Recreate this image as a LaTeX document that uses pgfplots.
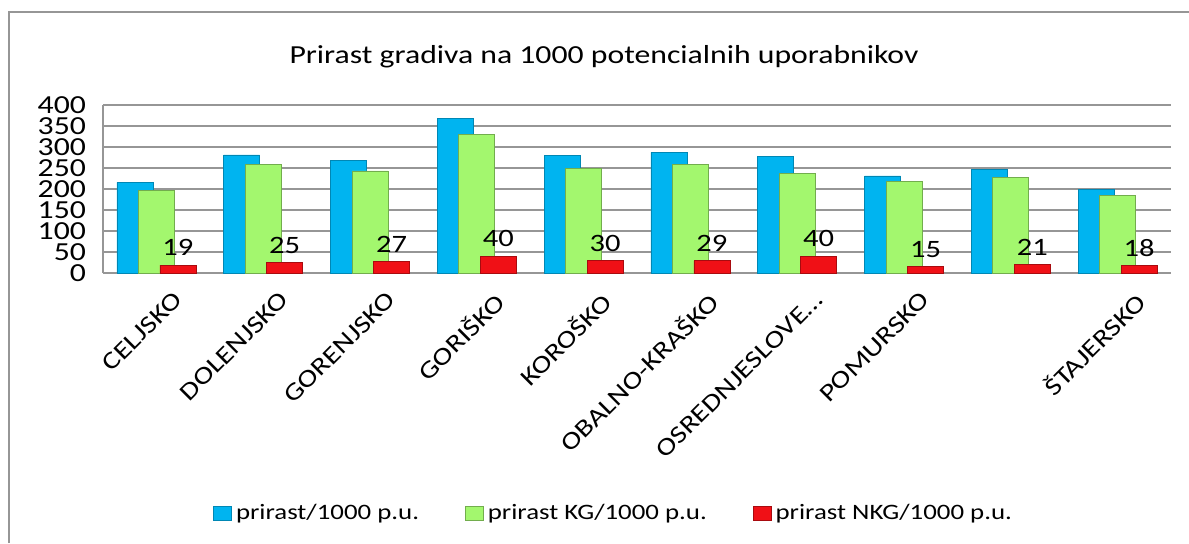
\documentclass[border=0pt]{standalone}
\usepackage{fontspec}
\setmainfont{Carlito}[FakeStretch=1.22]
\usepackage{pgfplots}
\pgfplotsset{compat=1.18}

\definecolor{cblue}{RGB}{0,180,240}
\definecolor{cgreen}{RGB}{163,247,110}
\definecolor{cred}{RGB}{240,16,22}
\definecolor{gridgray}{RGB}{150,150,150}

\begin{document}
\begin{tikzpicture}
\useasboundingbox (0,0) rectangle (594.5pt,271.5pt);
\begin{axis}[
  at={(51.5pt,135pt)}, anchor=south west,
  scale only axis, width=534pt, height=84pt,
  ybar, bar width=18pt,
  ymin=0, ymax=400, ytick={0,50,...,400},
  xmin=-0.5, xmax=9.5, xtick={0,...,9},
  xticklabels={CELJSKO,DOLENJSKO,GORENJSKO,GORIŠKO,KOROŠKO,OBALNO-KRAŠKO,OSREDNJESLOVE…,POMURSKO,{},ŠTAJERSKO},
  x tick label style={rotate=45, anchor=north east, xshift=3pt, yshift=-8pt, font=\fontsize{12.3}{14}\selectfont},
  y tick label style={xshift=-5pt, font=\fontsize{13}{14}\selectfont},
  /pgf/number format/assume math mode=true,
  major tick length=0pt,
  ymajorgrids, grid style={gridgray, line width=0.9pt},
  axis x line*=bottom, axis y line*=left,
  axis line style={gridgray, line width=0.9pt},
  legend style={at={(0.479,-1.4286)}, anchor=center, draw=none, fill=none,
    legend columns=3, font=\fontsize{11}{13}\selectfont,
    /tikz/every even column/.append style={column sep=21pt}},
  legend image code/.code={\draw[#1] (0pt,-3.5pt) rectangle (9pt,3.5pt);},
]
\addplot[fill=cblue, draw=cblue!75!black, bar shift=-10.75pt] coordinates {
 (0,216) (1,281) (2,269) (3,368) (4,279) (5,287) (6,277) (7,231) (8,246) (9,199)};
\addplot[fill=cgreen, draw=cgreen!70!black, bar shift=0pt] coordinates {
 (0,197) (1,258) (2,243) (3,330) (4,250) (5,259) (6,238) (7,217) (8,227) (9,184)};
\addplot[fill=cred, draw=cred!70!black, bar shift=10.75pt,
  nodes near coords,
  every node near coord/.append style={font=\fontsize{12.5}{14}\selectfont, black, yshift=1pt}] coordinates {
 (0,19) (1,25) (2,27) (3,40) (4,30) (5,29) (6,40) (7,15) (8,21) (9,18)};
\legend{prirast/1000 p.u., prirast KG/1000 p.u., prirast NKG/1000 p.u.}
\end{axis}
\node[font=\fontsize{13}{15}\selectfont] at (302pt,243pt)
  {Prirast gradiva na 1000 potencialnih uporabnikov};
\draw[gridgray, line width=0.9pt] (4.5pt,0) -- (4.5pt,265.5pt) -- (594.5pt,265.5pt);
\end{tikzpicture}
\end{document}
